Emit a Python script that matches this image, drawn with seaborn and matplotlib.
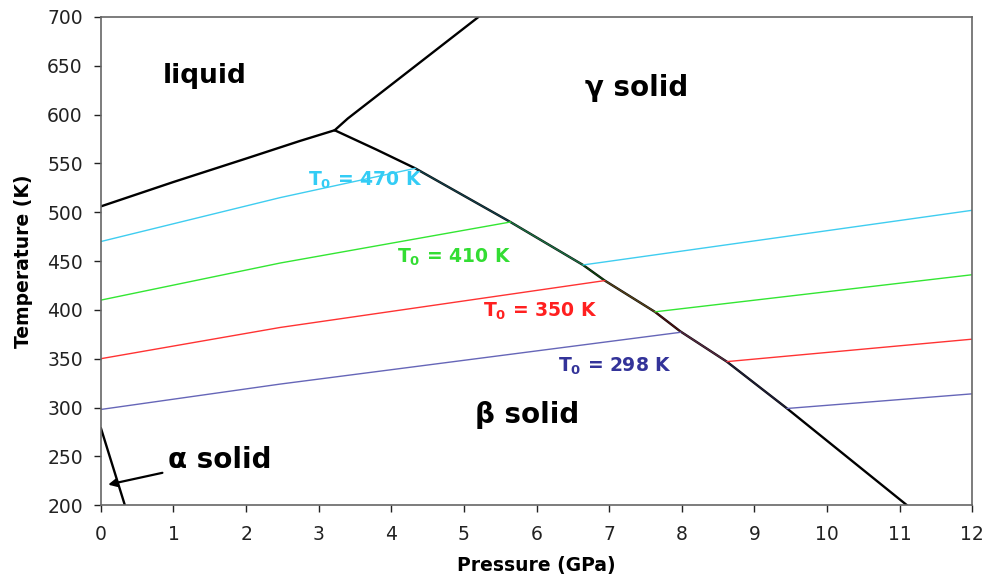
import numpy as np
import pandas as pd
import seaborn as sns
import matplotlib.pyplot as plt

# phase boundaries (pressure GPa, temperature K)
melt_p = [0.0, 1.0, 2.0, 2.74, 3.22]
melt_t = [506, 531, 555, 573, 584]

liq_gamma_p = [3.22, 3.4, 5.2]
liq_gamma_t = [584, 596, 700]

beta_gamma_p = [3.22, 3.8, 4.33, 5.64, 6.64, 6.94, 7.63, 7.98, 8.62, 9.45, 11.1]
beta_gamma_t = [584, 564, 545, 490, 446, 430, 398, 378, 347, 299, 200]

alpha_p = [0.0, 0.33]
alpha_t = [279, 200]

# T0 lines: left part (beta side) and right part (gamma side)
t0_names = ["470", "410", "350", "298"]
t0_left_p = [[0, 2.47, 4.33],
             [0, 2.47, 5.64],
             [0, 2.47, 6.94],
             [0, 2.47, 7.98]]
t0_left_t = [[470, 515, 545],
             [410, 448, 490],
             [350, 382, 430],
             [298, 324, 377]]
t0_right_p = [[6.64, 12], [7.63, 12], [8.62, 12], [9.45, 12]]
t0_right_t = [[446, 502], [398, 436], [347, 370], [299, 314]]
# stretch of the beta/gamma boundary each T0 line runs along (index range)
t0_on_boundary = [(2, 4), (3, 6), (5, 8), (7, 9)]
t0_line_col = ["#3fcdf0", "#33e633", "#ff3333", "#6666b8"]
t0_text_col = ["#33ccf5", "#33dd33", "#ff2020", "#333399"]
t0_label_xy = [(2.85, 533), (4.08, 454), (5.26, 398), (6.3, 342)]

sns.set_theme(style="ticks")
plt.rcParams['font.family'] = ['DejaVu Sans']

fig = plt.figure(figsize=(9.89, 5.86), dpi=100)
ax = fig.add_axes([0.102, 0.138, 0.881, 0.833])

for p, t in [(melt_p, melt_t), (liq_gamma_p, liq_gamma_t),
             (beta_gamma_p, beta_gamma_t), (alpha_p, alpha_t)]:
    sns.lineplot(x=p, y=t, ax=ax, color="black", lw=1.7, sort=False)

for i in range(4):
    sns.lineplot(x=t0_left_p[i], y=t0_left_t[i], ax=ax, color=t0_line_col[i], lw=1.0, sort=False)
    sns.lineplot(x=t0_right_p[i], y=t0_right_t[i], ax=ax, color=t0_line_col[i], lw=1.0, sort=False)
    a, b = t0_on_boundary[i]
    sns.lineplot(x=beta_gamma_p[a:b + 1], y=beta_gamma_t[a:b + 1], ax=ax,
                 color=t0_line_col[i], lw=1.0, alpha=0.3, sort=False)
    ax.text(t0_label_xy[i][0], t0_label_xy[i][1], r"T$_\mathbf{0}$ = " + t0_names[i] + " K",
            color=t0_text_col[i], fontsize=13.5, fontweight="bold", va="center", ha="left")

ax.text(1.43, 640, "liquid", fontsize=19, fontweight="bold", color="black", ha="center", va="center")
ax.text(7.38, 627, "γ solid", fontsize=20, fontweight="bold", color="black", ha="center", va="center")
ax.text(5.87, 292, "β solid", fontsize=20, fontweight="bold", color="black", ha="center", va="center")
ax.annotate("α solid", xy=(0.1, 221), xytext=(0.93, 246), fontsize=20, fontweight="bold",
            color="black", ha="left", va="center",
            arrowprops=dict(arrowstyle="-|>", color="black", lw=1.6, mutation_scale=12,
                            shrinkA=2, shrinkB=0))

ax.set_xlim(0, 12)
ax.set_ylim(200, 700)
ax.set_xticks(range(0, 13))
ax.set_yticks(range(200, 701, 50))
ax.tick_params(labelsize=13.5, colors="#222222", length=5, width=1)
ax.tick_params(axis="x", pad=9)
ax.tick_params(axis="y", pad=8)
for s in ax.spines.values():
    s.set_color("#666666")
    s.set_linewidth(1.2)
ax.set_xlabel("Pressure (GPa)", fontsize=13.5, fontweight="bold", color="black", labelpad=9)
ax.set_ylabel("Temperature (K)", fontsize=13.5, fontweight="bold", color="black", labelpad=10)

fig.savefig("out.png", dpi=100)
